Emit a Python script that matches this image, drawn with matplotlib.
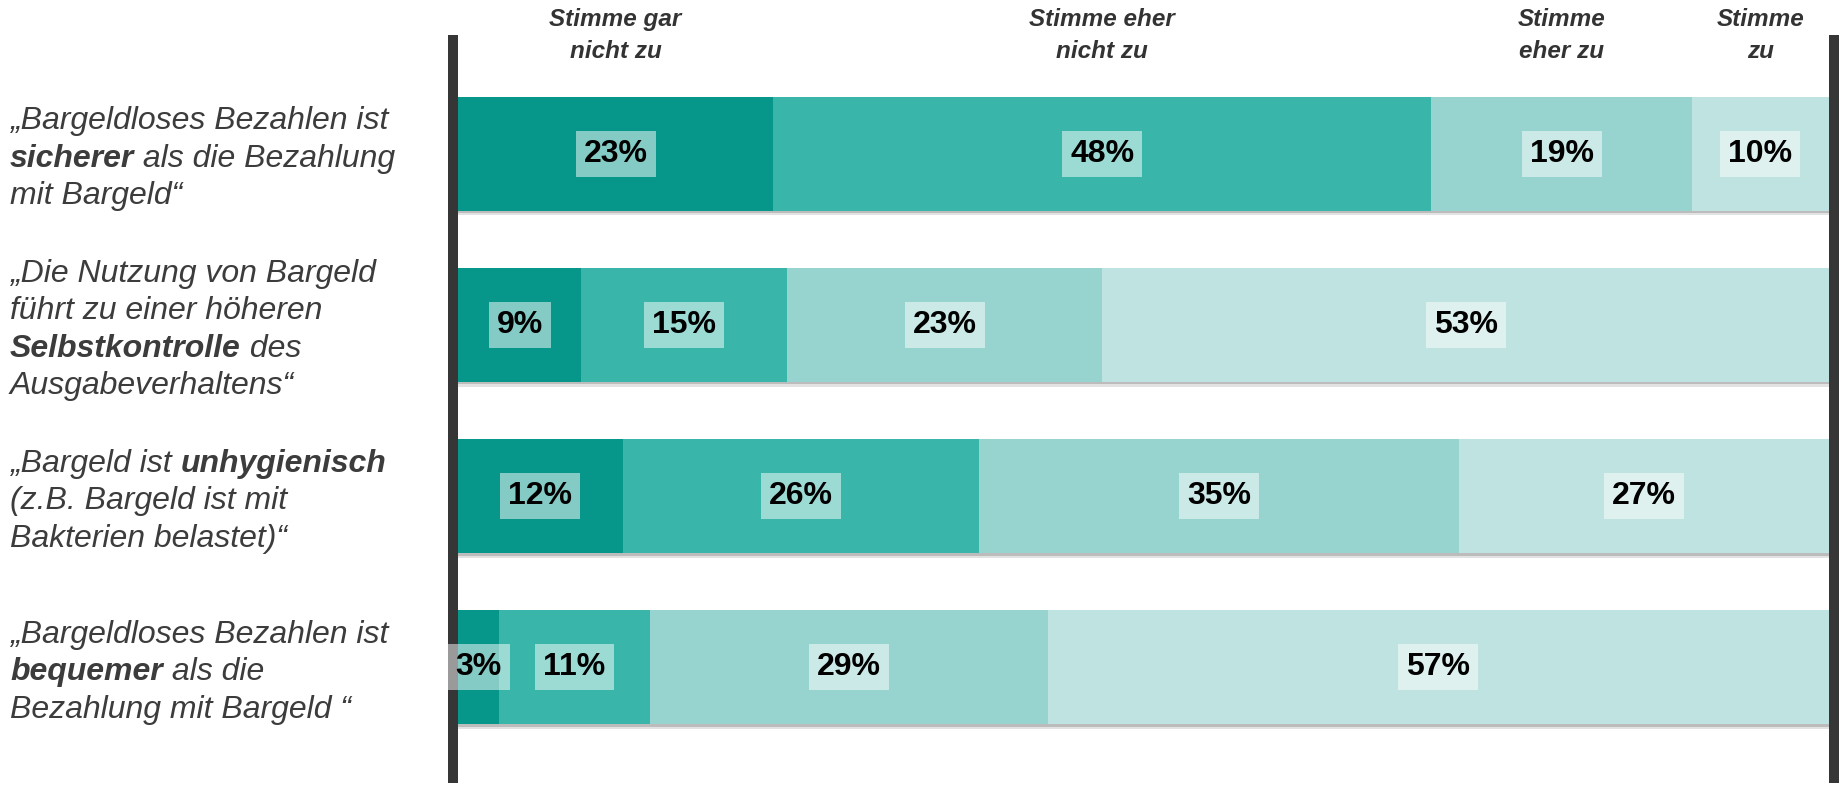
import numpy as np
import matplotlib
matplotlib.use("Agg")
import matplotlib.pyplot as plt
from matplotlib.transforms import blended_transform_factory, offset_copy

# ── Data ─────────────────────────────────────────────────────────
headers = ["Stimme gar\nnicht zu", "Stimme eher\nnicht zu", "Stimme\neher zu", "Stimme\nzu"]

# one list per answer, rows top to bottom
gar_nicht = [23, 9, 12, 3]
eher_nicht = [48, 15, 26, 11]
eher_zu = [19, 23, 35, 29]
voll_zu = [10, 53, 27, 57]

# statement lines: (text, bold)
statements = [
    [[("„Bargeldloses Bezahlen ist", False)],
     [("sicherer", True), (" als die Bezahlung", False)],
     [("mit Bargeld“", False)]],
    [[("„Die Nutzung von Bargeld", False)],
     [("führt zu einer höheren", False)],
     [("Selbstkontrolle", True), (" des", False)],
     [("Ausgabeverhaltens“", False)]],
    [[("„Bargeld ist ", False), ("unhygienisch", True)],
     [("(z.B. Bargeld ist mit", False)],
     [("Bakterien belastet)“", False)]],
    [[("„Bargeldloses Bezahlen ist", False)],
     [("bequemer", True), (" als die", False)],
     [("Bezahlung mit Bargeld “", False)]],
]

COLORS = ["#07978a", "#3ab5aa", "#97d4cf", "#bee3e0"]
FONT = "Liberation Sans"
W, H = 1839, 785
BAR_H = 0.666

# ── Figure ───────────────────────────────────────────────────────
fig = plt.figure(figsize=(W / 100, H / 100), dpi=100)
ax = fig.add_axes([458 / W, 2 / H, 1371 / W, 748 / H])

y = np.arange(len(gar_nicht))
series = [gar_nicht, eher_nicht, eher_zu, voll_zu]

# soft shadow under each bar
ax.barh(y + 0.026, 100, height=BAR_H, color="#e2e2e2", zorder=0.8)
ax.barh(y + 0.013, 100, height=BAR_H, color="#bcbcbc", zorder=0.9)

left = np.zeros(len(y))
for vals, col in zip(series, COLORS):
    vals = np.array(vals, dtype=float)
    ax.barh(y, vals, left=left, height=BAR_H, color=col, zorder=1)
    for i, v in enumerate(vals):
        ax.text(left[i] + v / 2, y[i], f"{v:.0f}%", ha="center", va="center",
                fontsize=23, fontweight="bold", family=FONT, color="black", zorder=4,
                bbox=dict(boxstyle="square,pad=0.25", fc="white", ec="none", alpha=0.5))
    left += vals

ax.set_xlim(0, 100)
ax.set_ylim(3.675, -0.695)
ax.set_xticks([])
ax.set_yticks([])
for s in ["top", "bottom"]:
    ax.spines[s].set_visible(False)
for s in ["left", "right"]:
    sp = ax.spines[s]
    sp.set_linewidth(7.2)
    sp.set_color("#363636")
    sp.set_position(("outward", 3.6))
    sp.set_capstyle("butt")

# ── Column headers (centered over first row's segments) ──────────
head_tr = blended_transform_factory(ax.transData, fig.transFigure)
starts = np.cumsum([0] + [s[0] for s in series[:-1]])
for j, h in enumerate(headers):
    xc = starts[j] + series[j][0] / 2
    for k, line in enumerate(h.split("\n")):
        ax.text(xc, 1 - (26 + 32 * k) / H, line, transform=head_tr, ha="center",
                va="baseline", fontsize=17.5, fontweight="bold", style="italic",
                family=FONT, color="#333333")

# ── Statement labels (italic with bold key words) ────────────────
base = blended_transform_factory(fig.transFigure, ax.transData)
for i, lines in enumerate(statements):
    n = len(lines)
    for k, segs in enumerate(lines):
        dy = 13 + (k - (n - 1) / 2) * 37.5
        tr = offset_copy(base, fig=fig, x=0, y=-dy * 0.72, units="points")
        prev = None
        for text, bold in segs:
            kw = dict(fontsize=23, style="italic", family=FONT, color="#3c3c3c",
                      fontweight="bold" if bold else "normal")
            if prev is None:
                prev = ax.text(10 / W, y[i], text, transform=tr, ha="left",
                               va="baseline", **kw)
            else:
                prev = ax.annotate(text, xy=(1, 0), xycoords=prev, ha="left",
                                   va="bottom", **kw)

fig.savefig("out.png", dpi=100)
